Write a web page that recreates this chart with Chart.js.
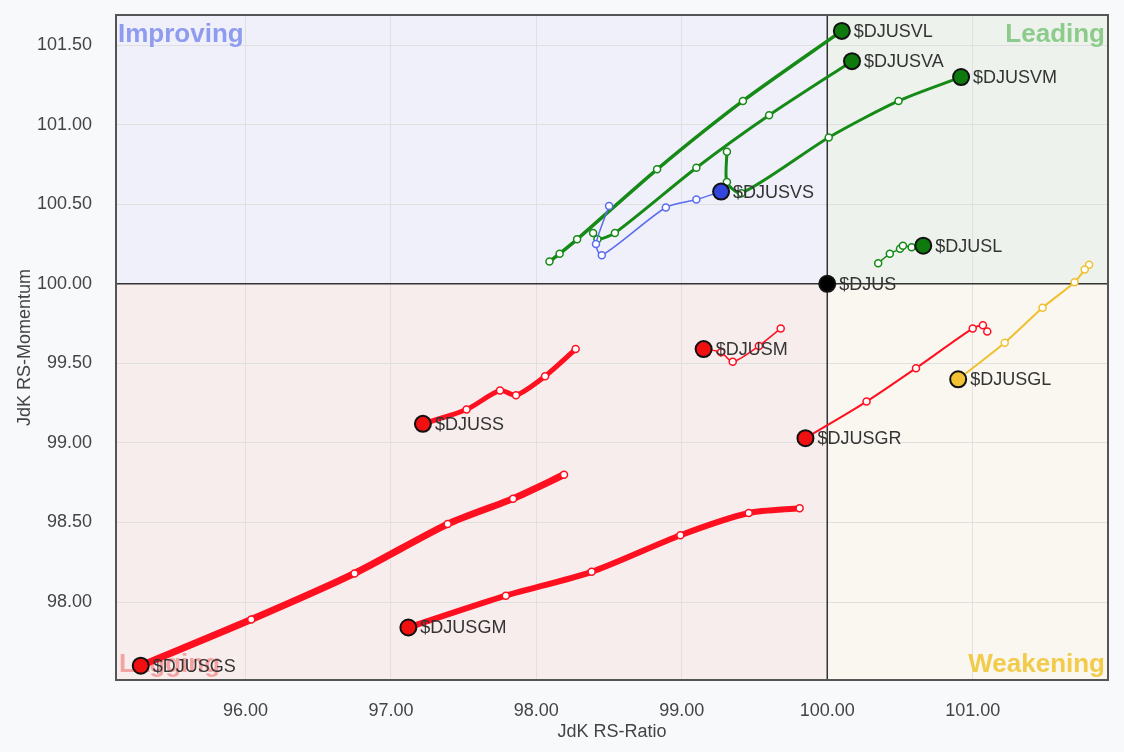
<!DOCTYPE html>
<html>
<head>
<meta charset="utf-8">
<script src="https://cdn.jsdelivr.net/npm/chart.js@4.4.1/dist/chart.umd.min.js"></script>
<style>
  html, body { margin: 0; padding: 0; background: #f8f9fb; }
  #wrap { width: 1124px; height: 752px; position: relative; }
</style>
</head>
<body>
<div id="wrap"><canvas id="rrg" width="1124" height="752"></canvas></div>
<script>
// Tick values
const xTickValues = [96, 97, 98, 99, 100, 101];
const yTickValues = [98, 98.5, 99, 99.5, 100, 100.5, 101, 101.5];

// Series: JdK RS-Ratio (x) and RS-Momentum (y), tail -> head
const djusvlRatio = [98.09, 98.16, 98.28, 98.83, 99.42, 100.10];
const djusvlMom   = [100.14, 100.19, 100.28, 100.72, 101.15, 101.59];

const djusvaRatio = [98.39, 98.42, 98.54, 99.10, 99.60, 100.17];
const djusvaMom   = [100.32, 100.28, 100.32, 100.73, 101.06, 101.40];

const djusvmRatio = [99.31, 99.31, 99.41, 100.01, 100.49, 100.92];
const djusvmMom   = [100.83, 100.64, 100.57, 100.92, 101.15, 101.30];

const djusvsRatio = [98.50, 98.41, 98.45, 98.89, 99.10, 99.27];
const djusvsMom   = [100.49, 100.25, 100.18, 100.48, 100.53, 100.58];

const djuslRatio = [100.35, 100.43, 100.50, 100.52, 100.58, 100.66];
const djuslMom   = [100.13, 100.19, 100.22, 100.24, 100.23, 100.24];

const djusRatio = [100.00];
const djusMom   = [100.00];

const djusmRatio = [99.68, 99.53, 99.35, 99.27, 99.15];
const djusmMom   = [99.72, 99.61, 99.51, 99.57, 99.59];

const djussRatio = [98.27, 98.06, 97.86, 97.75, 97.52, 97.22];
const djussMom   = [99.59, 99.42, 99.30, 99.33, 99.21, 99.12];

const djusgrRatio = [101.10, 101.07, 101.00, 100.61, 100.27, 99.85];
const djusgrMom   = [99.70, 99.74, 99.72, 99.47, 99.26, 99.03];

const djusglRatio = [101.80, 101.77, 101.70, 101.48, 101.22, 100.90];
const djusglMom   = [100.12, 100.09, 100.01, 99.85, 99.63, 99.40];

const djusgsRatio = [98.19, 97.84, 97.39, 96.75, 96.04, 95.28];
const djusgsMom   = [98.80, 98.65, 98.49, 98.18, 97.89, 97.60];

const djusgmRatio = [99.81, 99.46, 98.99, 98.38, 97.79, 97.12];
const djusgmMom   = [98.59, 98.56, 98.42, 98.19, 98.04, 97.84];

const GREEN = '#168a16', GREEN_HEAD = '#0e7a0e';
const BLUE = '#5a6cf0', BLUE_HEAD = '#3445dc';
const RED = '#ff1020', RED_HEAD = '#f01010';
const YELLOW = '#f0c030', YELLOW_HEAD = '#f2c233';

function pts(xs, ys) {
  return xs.map((v, i) => ({ x: v, y: ys[i] }));
}

function series(name, xs, ys, color, head, width) {
  const last = xs.length - 1;
  return {
    label: name,
    data: pts(xs, ys),
    showLine: true,
    borderColor: color,
    borderWidth: width,
    tension: 0.25,
    pointRadius: ctx => ctx.dataIndex === last ? 8 : 3.5,
    pointBackgroundColor: ctx => ctx.dataIndex === last ? head : '#ffffff',
    pointBorderColor: ctx => ctx.dataIndex === last ? '#111111' : color,
    pointBorderWidth: ctx => ctx.dataIndex === last ? 2 : 1.5
  };
}

const datasets = [
  series('$DJUS', djusRatio, djusMom, '#000000', '#000000', 1),
  series('$DJUSVS', djusvsRatio, djusvsMom, BLUE, BLUE_HEAD, 1.5),
  series('$DJUSVL', djusvlRatio, djusvlMom, GREEN, GREEN_HEAD, 3.5),
  series('$DJUSVA', djusvaRatio, djusvaMom, GREEN, GREEN_HEAD, 3),
  series('$DJUSVM', djusvmRatio, djusvmMom, GREEN, GREEN_HEAD, 3),
  series('$DJUSL', djuslRatio, djuslMom, GREEN, GREEN_HEAD, 1.5),
  series('$DJUSM', djusmRatio, djusmMom, RED, RED_HEAD, 1.5),
  series('$DJUSGR', djusgrRatio, djusgrMom, RED, RED_HEAD, 2),
  series('$DJUSGL', djusglRatio, djusglMom, YELLOW, YELLOW_HEAD, 2),
  series('$DJUSS', djussRatio, djussMom, RED, RED_HEAD, 5),
  series('$DJUSGM', djusgmRatio, djusgmMom, RED, RED_HEAD, 6),
  series('$DJUSGS', djusgsRatio, djusgsMom, RED, RED_HEAD, 7)
];

// quadrant shading, labels, center cross and labels for series heads
const rrgPlugin = {
  id: 'rrg',
  beforeDraw(chart) {
    const { ctx, chartArea: a, scales: { x, y } } = chart;
    const cx = x.getPixelForValue(100), cy = y.getPixelForValue(100);
    ctx.save();
    ctx.fillStyle = '#eff0f9'; ctx.fillRect(a.left, a.top, cx - a.left, cy - a.top);
    ctx.fillStyle = '#edf3ec'; ctx.fillRect(cx, a.top, a.right - cx, cy - a.top);
    ctx.fillStyle = '#f8eded'; ctx.fillRect(a.left, cy, cx - a.left, a.bottom - cy);
    ctx.fillStyle = '#f9f7ef'; ctx.fillRect(cx, cy, a.right - cx, a.bottom - cy);
    ctx.restore();
  },
  beforeDatasetsDraw(chart) {
    const { ctx, chartArea: a, scales: { x, y } } = chart;
    const cx = x.getPixelForValue(100), cy = y.getPixelForValue(100);
    ctx.save();
    ctx.font = 'bold 26px "Liberation Sans", Arial, sans-serif';
    ctx.textBaseline = 'alphabetic';
    ctx.textAlign = 'left';
    ctx.fillStyle = '#8e9bef'; ctx.fillText('Improving', a.left + 2, a.top + 27);
    ctx.fillStyle = '#f4a3a3'; ctx.fillText('Lagging', a.left + 3, a.bottom - 8);
    ctx.textAlign = 'right';
    ctx.fillStyle = '#8ccb8c'; ctx.fillText('Leading', a.right - 3, a.top + 27);
    ctx.fillStyle = '#f2cb4a'; ctx.fillText('Weakening', a.right - 3, a.bottom - 8);

    ctx.strokeStyle = '#333333';
    ctx.lineWidth = 1.5;
    ctx.beginPath();
    ctx.moveTo(cx, a.top); ctx.lineTo(cx, a.bottom);
    ctx.moveTo(a.left, cy); ctx.lineTo(a.right, cy);
    ctx.stroke();
    ctx.strokeStyle = '#555555';
    ctx.lineWidth = 2;
    ctx.strokeRect(a.left, a.top, a.right - a.left, a.bottom - a.top);
    ctx.restore();
  },
  afterDatasetsDraw(chart) {
    const { ctx } = chart;
    ctx.save();
    ctx.font = '18px "Liberation Sans", Arial, sans-serif';
    ctx.fillStyle = '#333333';
    ctx.textBaseline = 'middle';
    ctx.textAlign = 'left';
    chart.data.datasets.forEach((ds, i) => {
      const meta = chart.getDatasetMeta(i);
      const head = meta.data[meta.data.length - 1];
      ctx.fillText(ds.label, head.x + 12, head.y + 1);
    });
    ctx.restore();
  }
};

const tickFont = { family: '"Liberation Sans", Arial, sans-serif', size: 18 };

function noPad(s) {
  s.paddingTop = 0; s.paddingBottom = 0; s.paddingLeft = 0; s.paddingRight = 0;
}

new Chart(document.getElementById('rrg').getContext('2d'), {
  type: 'scatter',
  data: { datasets: datasets },
  plugins: [rrgPlugin],
  options: {
    responsive: false,
    animation: false,
    layout: { padding: { top: 15, right: 16, left: 0, bottom: 0 } },
    plugins: { legend: { display: false }, tooltip: { enabled: false } },
    scales: {
      x: {
        type: 'linear',
        min: 95.11,
        max: 101.93,
        afterBuildTicks: s => { s.ticks = xTickValues.map(v => ({ value: v })); },
        afterFit: s => { s.height = 72; noPad(s); },
        grid: { color: '#e0e0e0', drawTicks: false },
        border: { display: false },
        ticks: { font: tickFont, color: '#444', padding: 20, callback: v => v.toFixed(2) },
        title: { display: true, text: 'JdK RS-Ratio', font: tickFont, color: '#444', padding: { top: 0, bottom: 9 } }
      },
      y: {
        type: 'linear',
        min: 97.51,
        max: 101.69,
        afterBuildTicks: s => { s.ticks = yTickValues.map(v => ({ value: v })); },
        afterFit: s => { s.width = 116; noPad(s); },
        grid: { color: '#e0e0e0', drawTicks: false },
        border: { display: false },
        ticks: { font: tickFont, color: '#444', padding: 24, callback: v => v.toFixed(2) },
        title: { display: true, text: 'JdK RS-Momentum', font: tickFont, color: '#444', padding: { top: 14, bottom: 0 } }
      }
    }
  }
});
</script>
</body>
</html>
